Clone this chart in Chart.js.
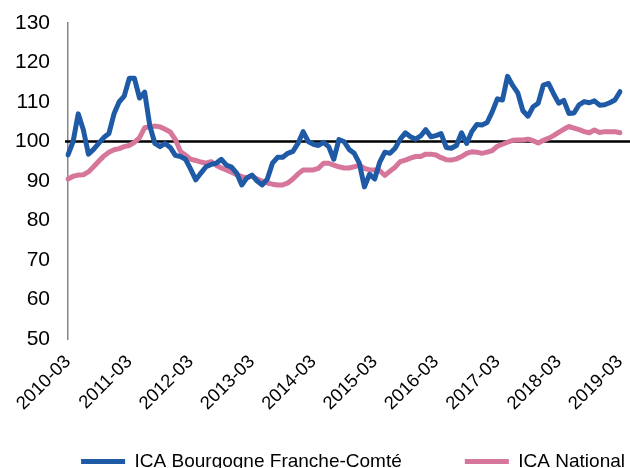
<!DOCTYPE html>
<html>
<head>
<meta charset="utf-8">
<script src="https://cdn.jsdelivr.net/npm/chart.js@4.4.0/dist/chart.umd.min.js"></script>
<style>
  html, body { margin: 0; padding: 0; background: #fff; overflow: hidden; }
  #wrap { width: 630px; height: 481px; position: relative; }
</style>
</head>
<body>
<div id="wrap"><canvas id="ica"></canvas></div>
<script>
// monthly index, March 2010 to March 2019
const firstYear = 2010;
const monthCount = 109;
const months = [];
for (let i = 0; i < monthCount; i++) {
  const m = (2 + i) % 12 + 1;
  const y = firstYear + Math.floor((2 + i) / 12);
  months.push(`${y}-${String(m).padStart(2, '0')}`);
}

const yearTicks = ['2010-03', '2011-03', '2012-03', '2013-03', '2014-03',
  '2015-03', '2016-03', '2017-03', '2018-03', '2019-03'];

const seriesNames = ['ICA Bourgogne Franche-Comté', 'ICA National'];

const icaBfc = [
  96.6, 100, 107, 103, 96.8, 98, 99.5, 101, 102, 107,
  110, 111.5, 116, 116, 111, 112.5, 104, 99.5, 98.7, 99.5,
  98.5, 96.5, 96.2, 95.5, 93, 90.3, 92, 93.6, 94.2, 94.5,
  95.5, 94, 93.5, 92, 89, 90.8, 91.5, 90, 89, 90.5,
  94.5, 96, 96, 97, 97.5, 99.5, 102.5, 100, 99.3, 99,
  99.8, 98.7, 95.5, 100.5, 100, 98, 97, 94.5, 88.5, 91.7,
  90.5, 94.8, 97.3, 97, 98.3, 100.6, 102.2, 101.2, 100.6, 101.4,
  103, 101.2, 101.5, 102, 98.5, 98.3, 99, 102.2, 99.5, 102.5,
  104.3, 104.2, 104.8, 107.5, 110.8, 110.5, 116.5, 114.2, 112.3, 107.8,
  106.4, 108.8, 109.7, 114.3, 114.7, 112.1, 109.7, 110.4, 107.1, 107.2,
  109.3, 110.1, 109.8, 110.3, 109.2, 109.3, 109.8, 110.5, 112.6
];

const icaNational = [
  90.5, 91.2, 91.5, 91.6, 92.3, 93.6, 95, 96.3, 97.3, 97.9,
  98.2, 98.7, 99, 99.8, 101, 103.5, 103.7, 103.9, 103.7, 103.1,
  102.4, 100.5, 97.5, 96.5, 95.5, 95.2, 94.8, 94.5, 94.9, 94,
  93.3, 92.8, 92.2, 91.6, 91.1, 90.8, 91.3, 90.5, 90, 89.5,
  89.2, 89, 89, 89.5, 90.5, 91.8, 92.8, 92.8, 92.8, 93.2,
  94.5, 94.5, 94, 93.6, 93.3, 93.3, 93.6, 94, 93.2, 92.8,
  92.8, 92.6, 91.4, 92.5, 93.5, 94.9, 95.3, 95.8, 96.2, 96.2,
  96.8, 96.8, 96.6, 95.9, 95.4, 95.3, 95.6, 96.2, 97, 97.4,
  97.3, 97, 97.3, 97.7, 98.8, 99.3, 99.8, 100.3, 100.4, 100.4,
  100.6, 100.2, 99.6, 100.3, 100.8, 101.5, 102.3, 103.1, 103.8, 103.4,
  103, 102.5, 102.2, 102.9, 102.3, 102.5, 102.5, 102.5, 102.2
];

const baseLevel = 100;
const blue = '#1f5aa6';
const pink = '#d5769a';
const nb = '\u00a0';
const legendPad = [nb.repeat(11), ''];

const baseLinePlugin = {
  id: 'baseLine',
  beforeDatasetsDraw(chart) {
    const { ctx, chartArea } = chart;
    const y = chart.scales.y.getPixelForValue(baseLevel);
    ctx.save();
    ctx.strokeStyle = '#000';
    ctx.lineWidth = 2.5;
    ctx.beginPath();
    ctx.moveTo(chartArea.left - 3, y);
    ctx.lineTo(chart.width, y);
    ctx.stroke();
    ctx.restore();
  }
};

Chart.defaults.font.family = '"Liberation Sans", Arial, sans-serif';
Chart.defaults.color = '#000';

new Chart(document.getElementById('ica'), {
  type: 'line',
  data: {
    labels: months,
    datasets: [
      {
        label: seriesNames[0],
        data: icaBfc,
        borderColor: blue,
        backgroundColor: blue,
        borderWidth: 5,
        pointRadius: 0,
        tension: 0,
        borderJoinStyle: 'round',
        borderCapStyle: 'round'
      },
      {
        label: seriesNames[1],
        data: icaNational,
        borderColor: pink,
        backgroundColor: pink,
        borderWidth: 5,
        pointRadius: 0,
        tension: 0,
        borderJoinStyle: 'round',
        borderCapStyle: 'round'
      }
    ]
  },
  options: {
    responsive: true,
    maintainAspectRatio: false,
    animation: false,
    layout: { padding: { left: 15, right: 0, top: 0, bottom: 0 } },
    scales: {
      x: {
        grid: { drawOnChartArea: false, drawTicks: false },
        border: { display: false },
        ticks: {
          autoSkip: false,
          minRotation: 45,
          maxRotation: 45,
          padding: 12,
          font: { size: 18.5 },
          callback: function (value, index) {
            const lab = this.getLabelForValue(value);
            return yearTicks.includes(lab) ? lab : '';
          }
        },
        afterFit(scale) {
          scale.paddingLeft = 0;
          scale.paddingRight = 10;
          scale.height = 108;
        }
      },
      y: {
        min: 50,
        max: 130,
        grid: { drawOnChartArea: false, drawTicks: false },
        border: { display: true, color: '#868686', width: 1.5 },
        ticks: {
          stepSize: 10,
          padding: 18,
          font: { size: 21 }
        },
        afterFit(scale) {
          scale.width = 53;
          scale.paddingTop = 23;
          scale.paddingBottom = 0;
        }
      }
    },
    plugins: {
      legend: {
        position: 'bottom',
        align: 'end',
        labels: {
          boxWidth: 44,
          boxHeight: 5,
          padding: 5,
          font: { size: 19 },
          generateLabels(chart) {
            const items = Chart.defaults.plugins.legend.labels.generateLabels(chart);
            items.forEach((item, i) => {
              item.text = item.text + legendPad[i];
              item.lineWidth = 0;
              item.fillStyle = item.strokeStyle;
            });
            return items;
          }
        }
      },
      tooltip: { enabled: false }
    }
  },
  plugins: [baseLinePlugin]
});
</script>
</body>
</html>
